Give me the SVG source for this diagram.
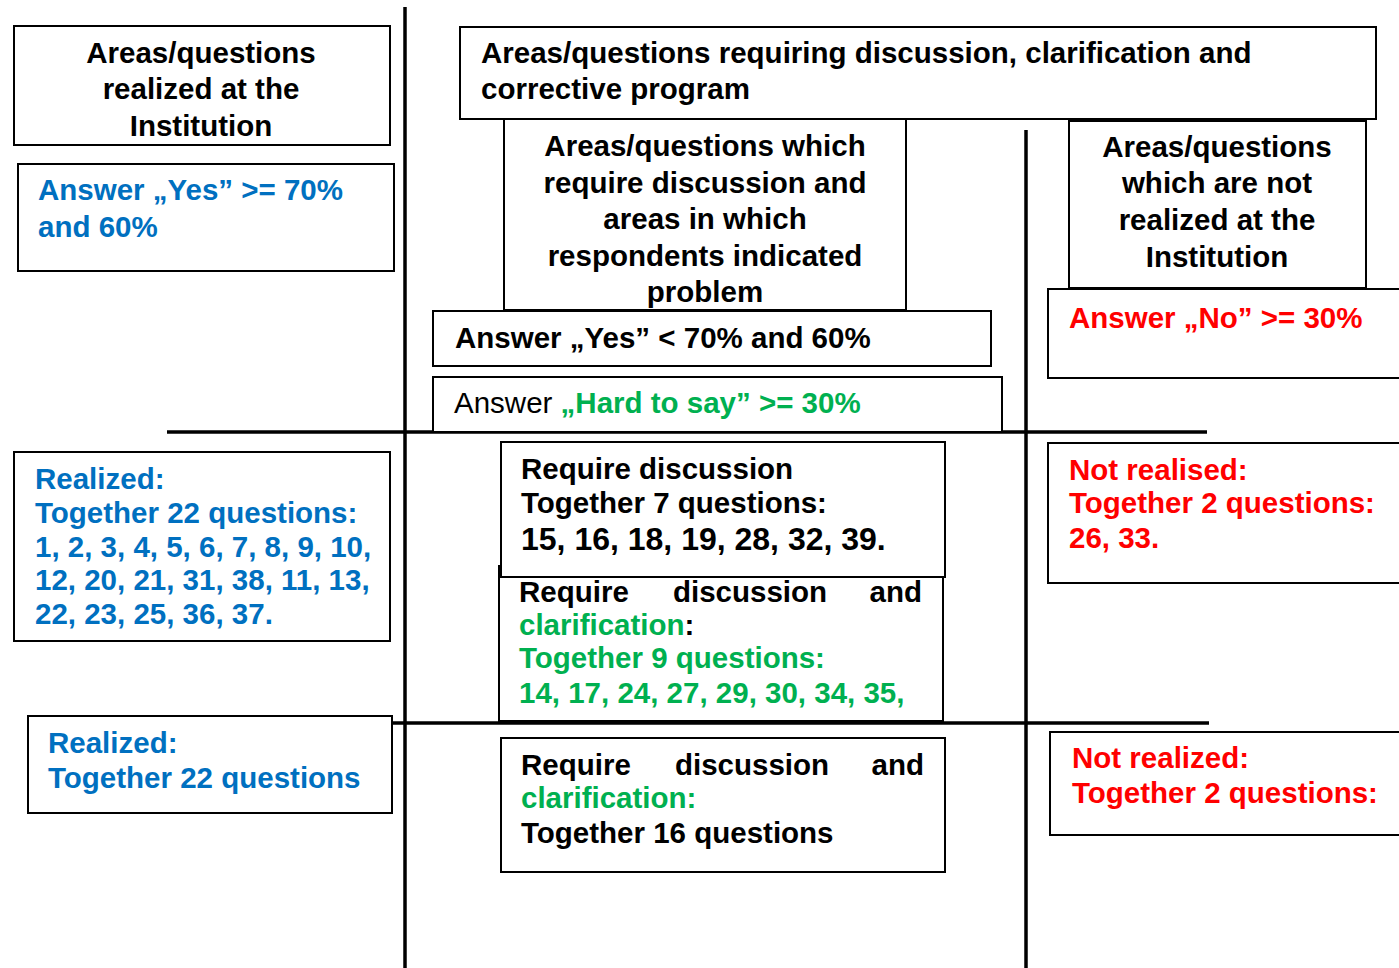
<svg xmlns="http://www.w3.org/2000/svg" width="1399" height="968" viewBox="0 0 1399 968">
<style>
text{font-family:"Liberation Sans",Arial,sans-serif;font-weight:bold;font-size:29.5px;fill:#000}
.box{fill:#fff;stroke:#000;stroke-width:2}
.ln{stroke:#000;stroke-width:3.5;fill:none}
.c{text-anchor:middle}
.b{fill:#0070C0}
.g{fill:#00B050}
.r{fill:#FF0000}
.k{fill:#000}
.n{font-weight:normal}
</style>
<rect width="1399" height="968" fill="#fff"/>
<g id="connectors">
<line class="ln" x1="405" y1="7" x2="405" y2="968"/>
<line class="ln" x1="1026" y1="130" x2="1026" y2="968"/>
<line class="ln" x1="167" y1="432" x2="1207" y2="432"/>
<line class="ln" x1="392" y1="723" x2="1209" y2="723"/>
</g>
<g id="n1"><rect class="box" x="14" y="26" width="376" height="119"/>
<text class="c" x="201" y="63">Areas/questions</text>
<text class="c" x="201" y="99">realized at the</text>
<text class="c" x="201" y="136">Institution</text></g>
<g id="n2"><rect class="box" x="18" y="164" width="376" height="107"/>
<text class="b" x="38" y="200">Answer „Yes” &gt;= 70%</text>
<text class="b" x="38" y="237">and 60%</text></g>
<g id="n3"><rect class="box" x="460" y="27" width="916" height="92"/>
<text x="481" y="63">Areas/questions requiring discussion, clarification and</text>
<text x="481" y="99">corrective program</text></g>
<g id="n4"><rect class="box" x="504" y="119" width="402" height="191"/>
<text class="c" x="705" y="156">Areas/questions which</text>
<text class="c" x="705" y="193">require discussion and</text>
<text class="c" x="705" y="229">areas in which</text>
<text class="c" x="705" y="266">respondents indicated</text>
<text class="c" x="705" y="302">problem</text></g>
<g id="n5"><rect class="box" x="433" y="311" width="558" height="55"/>
<text x="455" y="348">Answer „Yes” &lt; 70% and 60%</text></g>
<g id="n6"><rect class="box" x="433" y="377" width="569" height="55"/>
<text x="454" y="413"><tspan class="n">Answer </tspan><tspan class="g">„Hard to say” &gt;= 30%</tspan></text></g>
<g id="n7"><rect class="box" x="1069" y="121" width="297" height="167"/>
<text class="c" x="1217" y="157">Areas/questions</text>
<text class="c" x="1217" y="193">which are not</text>
<text class="c" x="1217" y="230">realized at the</text>
<text class="c" x="1217" y="267">Institution</text></g>
<g id="n8"><rect class="box" x="1048" y="289" width="360" height="89"/>
<text class="r" x="1069" y="328">Answer „No” &gt;= 30%</text></g>
<g id="n9"><rect class="box" x="14" y="452" width="376" height="189"/>
<text class="b" x="35" y="489">Realized:</text>
<text class="b" x="35" y="523">Together 22 questions:</text>
<text class="b" x="35" y="557">1, 2, 3, 4, 5, 6, 7, 8, 9, 10,</text>
<text class="b" x="35" y="590">12, 20, 21, 31, 38, 11, 13,</text>
<text class="b" x="35" y="624">22, 23, 25, 36, 37.</text></g>
<g id="n10"><rect class="box" x="501" y="442" width="444" height="135"/>
<text x="521" y="479">Require discussion</text>
<text x="521" y="513">Together 7 questions:</text>
<text x="521" y="550" style="font-size:32px">15, 16, 18, 19, 28, 32, 39.</text></g>
<g id="n11"><rect class="box" x="499" y="577" width="444" height="144"/>
<line x1="499" y1="565" x2="499" y2="577" stroke="#000" stroke-width="2"/>
<text x="519" y="602">Require</text>
<text x="673" y="602">discussion</text>
<text x="922" y="602" style="text-anchor:end">and</text>
<text x="519" y="635"><tspan class="g">clarification</tspan>:</text>
<text class="g" x="519" y="668">Together 9 questions:</text>
<text class="g" x="519" y="703">14, 17, 24, 27, 29, 30, 34, 35,</text></g>
<g id="n12"><rect class="box" x="501" y="738" width="444" height="134"/>
<text x="521" y="775">Require</text>
<text x="675" y="775">discussion</text>
<text x="924" y="775" style="text-anchor:end">and</text>
<text class="g" x="521" y="808">clarification:</text>
<text x="521" y="843">Together 16 questions</text></g>
<g id="n13"><rect class="box" x="28" y="716" width="364" height="97"/>
<text class="b" x="48" y="753">Realized:</text>
<text class="b" x="48" y="788">Together 22 questions</text></g>
<g id="n14"><rect class="box" x="1048" y="443" width="360" height="140"/>
<text class="r" x="1069" y="480">Not realised:</text>
<text class="r" x="1069" y="513">Together 2 questions:</text>
<text class="r" x="1069" y="548">26, 33.</text></g>
<g id="n15"><rect class="box" x="1050" y="732" width="360" height="103"/>
<text class="r" x="1072" y="768">Not realized:</text>
<text class="r" x="1072" y="803">Together 2 questions:</text></g>
</svg>
